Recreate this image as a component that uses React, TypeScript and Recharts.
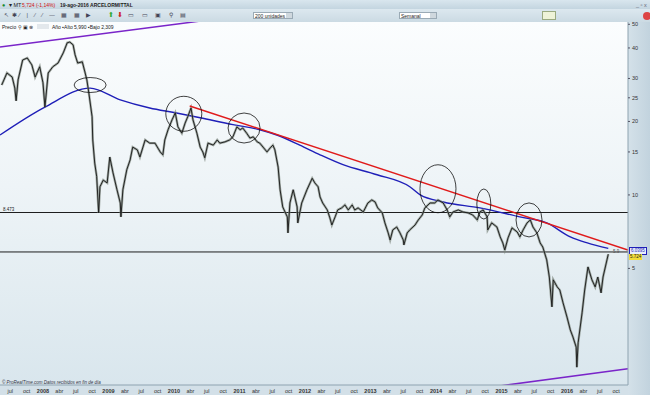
import React from "react"
import { ComposedChart, Line, XAxis, YAxis, ReferenceLine, ReferenceDot } from "recharts"

// ArcelorMittal weekly, decimal year / price
const priceDates = [
  2007.37, 2007.45, 2007.53, 2007.57, 2007.59, 2007.62, 2007.69, 2007.76, 2007.83, 2007.88, 2007.95,
  2008.0, 2008.03, 2008.08, 2008.15, 2008.23, 2008.31, 2008.37, 2008.41, 2008.46, 2008.49, 2008.53,
  2008.6, 2008.64, 2008.67, 2008.7, 2008.75, 2008.76, 2008.79, 2008.82, 2008.85, 2008.87, 2008.92,
  2008.98, 2009.02, 2009.07, 2009.13, 2009.18, 2009.19, 2009.22, 2009.28, 2009.33, 2009.37, 2009.44,
  2009.48, 2009.56, 2009.63,
  2009.71, 2009.79, 2009.83, 2009.86, 2009.91, 2009.97, 2010.02, 2010.06, 2010.12, 2010.17, 2010.21,
  2010.26, 2010.29, 2010.35, 2010.4, 2010.44, 2010.47, 2010.52, 2010.6, 2010.66, 2010.7, 2010.78,
  2010.85, 2010.9, 2010.96, 2011.01, 2011.05, 2011.11, 2011.16, 2011.21, 2011.27, 2011.31, 2011.36,
  2011.42, 2011.47, 2011.51, 2011.54, 2011.59, 2011.62, 2011.66, 2011.73, 2011.74, 2011.77, 2011.82,
  2011.88, 2011.89, 2011.95, 2012.03, 2012.11, 2012.15, 2012.2,
  2012.23, 2012.27, 2012.34, 2012.38, 2012.41, 2012.46, 2012.5, 2012.56, 2012.61, 2012.66, 2012.72,
  2012.76, 2012.81, 2012.89, 2012.96, 2013.02, 2013.07, 2013.11, 2013.18, 2013.22, 2013.27, 2013.3,
  2013.34, 2013.4, 2013.45, 2013.5, 2013.51, 2013.56, 2013.6, 2013.68, 2013.73, 2013.79, 2013.83,
  2013.91, 2013.98, 2014.03, 2014.11, 2014.17, 2014.21, 2014.26, 2014.34, 2014.41, 2014.49, 2014.56,
  2014.63, 2014.67, 2014.72, 2014.78, 2014.79, 2014.85, 2014.93, 2014.98, 2015.02, 2015.05, 2015.1,
  2015.16, 2015.24, 2015.28, 2015.33, 2015.39, 2015.44, 2015.48, 2015.54, 2015.59, 2015.63, 2015.69,
  2015.73, 2015.77, 2015.79, 2015.85, 2015.89, 2015.94, 2016.0, 2016.05, 2016.09, 2016.14, 2016.15,
  2016.17, 2016.23, 2016.27, 2016.32, 2016.38, 2016.43, 2016.47, 2016.52, 2016.55, 2016.61, 2016.63,
]
const priceValues = [
  28.2, 31.6, 30.4, 27.4, 24.3, 29.6, 35.7, 36.4, 34.1, 30.4, 33.5,
  28.8, 22.9, 31.6, 33.5, 34.7, 38.2, 42.0, 42.3, 41.2, 37.5, 34.7,
  35.1, 31.9, 29.6, 26.2, 20.9, 16.8, 13.5, 11.9, 8.44, 10.8, 11.5,
  11.2, 14.3, 12.3, 10.5, 9.27, 8.13, 10.5, 12.7, 13.9, 15.7, 15.3,
  14.3, 16.8, 16.3,
  16.3, 15.0, 14.6, 16.8, 18.5, 20.3, 21.7, 19.0, 17.9, 19.7, 20.9,
  22.7, 20.3, 17.9, 15.7, 15.0, 14.2, 16.3, 16.0, 16.8, 16.3, 16.5,
  16.8, 17.3, 19.0, 18.5, 18.8, 17.9, 17.1, 17.3, 16.5, 16.3, 15.7,
  15.0, 15.6, 16.0, 15.3, 13.0, 10.5, 8.93, 8.13, 6.99, 9.27, 10.5,
  8.93, 7.68, 9.27, 10.5, 11.7, 11.2, 10.8,
  9.81, 9.27, 8.68, 8.05, 7.53, 8.13, 8.68, 8.85, 9.1, 8.68, 9.1,
  8.68, 8.85, 8.52, 9.27, 9.54, 9.36, 8.85, 8.44, 7.68, 6.99, 6.54,
  7.19, 7.39, 6.99, 6.54, 6.24, 6.99, 7.19, 7.53, 7.9, 8.28, 8.85,
  9.27, 9.27, 9.54, 9.27, 8.68, 8.13, 8.52, 8.68, 8.52, 8.44, 8.28,
  7.9, 8.52, 8.68, 8.13, 7.19, 7.68, 7.39, 6.73, 6.36, 5.95, 6.67,
  7.33, 7.05, 6.73, 7.19, 7.68, 7.9, 7.39, 6.99, 6.36, 6.12, 5.42,
  4.61, 3.48, 4.49, 4.2, 4.08, 3.61, 3.16, 2.8, 2.62, 2.38, 1.97,
  2.48, 3.29, 4.08, 5.07, 4.49, 4.2, 4.61, 3.97, 4.61, 5.42, 5.72,
]

// 200-week moving average
const maDates = [
  2007.344, 2008.03, 2008.72, 2009.18, 2009.63, 2010.02, 2010.4, 2010.9, 2011.31, 2011.57, 2011.92,
  2012.23, 2012.58, 2013.1, 2013.6, 2013.76, 2014.11, 2014.67, 2015.28, 2015.69, 2016.05, 2016.31, 2016.63,
]
const maValues = [
  17.6, 22.9, 27.4, 24.5, 22.7, 21.7, 20.7, 19.4, 18.5, 17.6, 16.0,
  14.6, 13.3, 12.1, 10.8, 10.0, 9.36, 8.85, 8.13, 7.68, 6.73, 6.36, 6.04,
]

// drawn trend line and channel lines
const trendDates = [2010.24, 2016.93]
const trendValues = [23.15, 5.95]
const channelTopDates = [2007.344, 2010.7]
const channelTopValues = [40.4, 52.8]
const channelBottomDates = [2014.9, 2016.93]
const channelBottomValues = [1.64, 1.94]

const levelValues = [8.473, 5.84]

// annotation circles
const circleDates = [2008.72, 2010.15, 2011.07, 2014.03, 2014.73, 2015.42]
const circleValues = [28.2, 21.5, 18.8, 10.6, 9.18, 7.9]
const circleRx = [16, 18, 16, 18, 7, 13]
const circleRy = [7.5, 17.5, 15, 24, 15, 17]

const yTicks = [5, 10, 15, 20, 25, 30, 40, 50]
const years = [2008, 2009, 2010, 2011, 2012, 2013, 2014, 2015, 2016]
const quarterLabels = ["abr", "jul", "oct"]

const xTicks: number[] = [2007.5, 2007.75]
const xTickLabels: string[] = ["jul", "oct"]
years.forEach((y) => {
  xTicks.push(y)
  xTickLabels.push(String(y))
  quarterLabels.forEach((q, i) => {
    xTicks.push(y + (i + 1) * 0.25)
    xTickLabels.push(q)
  })
})

const price = priceDates.map((t, i) => ({ t, v: priceValues[i] }))
const ma = maDates.map((t, i) => ({ t, v: maValues[i] }))
const trend = trendDates.map((t, i) => ({ t, v: trendValues[i] }))
const chanTop = channelTopDates.map((t, i) => ({ t, v: channelTopValues[i] }))
const chanBottom = channelBottomDates.map((t, i) => ({ t, v: channelBottomValues[i] }))

const FONT = "'Liberation Sans', Arial, sans-serif"

function XTick(props: any) {
  const { x, y, payload } = props
  const idx = xTicks.indexOf(payload.value)
  const label = xTickLabels[idx] ?? ""
  const isYear = /^\d+$/.test(label)
  return (
    <text x={x} y={y + 7.5} textAnchor="middle" fontSize={5.5} fontFamily={FONT}
      fontWeight={isYear ? 700 : 400} fill="#333">
      {label}
    </text>
  )
}

function YTick(props: any) {
  const { x, y, payload } = props
  return (
    <text x={x + 1} y={y + 2} fontSize={5.5} fontFamily={FONT} fill="#333">
      {payload.value}
    </text>
  )
}

const txt = (extra: React.CSSProperties): React.CSSProperties => ({
  position: "absolute",
  fontFamily: FONT,
  fontSize: 5.5,
  lineHeight: "6px",
  whiteSpace: "nowrap",
  color: "#222",
  ...extra,
})

export default function App() {
  return (
    <div style={{ position: "absolute", left: 0, top: 0, width: 650, height: 395, overflow: "hidden", background: "#cddbe4" }}>
      {/* title bar */}
      <div style={{ position: "absolute", left: 0, top: 0, width: 650, height: 9, background: "linear-gradient(#d9e6ee,#c3d5e0)" }} />
      {/* toolbar */}
      <div style={{ position: "absolute", left: 0, top: 9, width: 650, height: 13, background: "linear-gradient(#dce8ef,#cbdae3)" }} />
      {/* plot background */}
      <div style={{ position: "absolute", left: 0, top: 22, width: 628, height: 363, background: "linear-gradient(#fbfdfe 0%,#eef4f7 45%,#d9e6ed 100%)" }} />
      {/* right axis panel */}
      <div style={{ position: "absolute", left: 628, top: 22, width: 22, height: 373, background: "linear-gradient(90deg,#d4e1e9,#c2d3de)" }} />
      {/* bottom axis strip */}
      <div style={{ position: "absolute", left: 0, top: 385, width: 628, height: 10, background: "#d3e0e8" }} />

      <div style={{ position: "absolute", left: 0, top: 0 }}>
        <ComposedChart width={650} height={395} margin={{ top: 22, right: 0, bottom: 0, left: 0 }}>
          <XAxis type="number" dataKey="t" domain={[2007.344, 2016.931]} allowDataOverflow
            ticks={xTicks} tick={<XTick />} tickSize={0} tickMargin={0} height={10}
            axisLine={{ stroke: "#8ea3b0" }} interval={0} />
          <YAxis type="number" dataKey="v" scale="log" domain={[1.665, 51.1]} allowDataOverflow
            orientation="right" ticks={yTicks} tick={<YTick />} tickSize={2} tickMargin={1}
            tickLine={{ stroke: "#556" }} width={22} axisLine={{ stroke: "#8ea3b0" }} interval={0} />

          {levelValues.map((v) => (
            <ReferenceLine key={v} y={v} stroke="#1e1e1e" strokeWidth={1} ifOverflow="hidden" />
          ))}

          <Line data={chanTop} dataKey="v" stroke="#7a25c9" strokeWidth={1.5} dot={false} isAnimationActive={false} />
          <Line data={chanBottom} dataKey="v" stroke="#7a25c9" strokeWidth={1.5} dot={false} isAnimationActive={false} />

          <Line data={ma} dataKey="v" type="monotone" stroke="#1f1fb8" strokeWidth={1.4} dot={false} isAnimationActive={false} />

          <Line data={price} dataKey="v" stroke="#7d877f" strokeOpacity={0.7} strokeWidth={2.4} dot={false} isAnimationActive={false} />
          <Line data={price} dataKey="v" stroke="#161616" strokeWidth={0.9} dot={false} isAnimationActive={false} />

          <Line data={trend} dataKey="v" stroke="#e01b1b" strokeWidth={1.5} dot={false} isAnimationActive={false} />

          {circleDates.map((t, i) => (
            <ReferenceDot key={t} x={t} y={circleValues[i]} ifOverflow="visible"
              shape={(p: any) => (
                <ellipse cx={p.cx} cy={p.cy} rx={circleRx[i]} ry={circleRy[i]} fill="none" stroke="#111" strokeWidth={0.8} />
              )} />
          ))}
        </ComposedChart>
      </div>

      {/* header texts */}
      <div style={txt({ left: 2, top: 1.5, color: "#1a8a2a" })}>●</div>
      <div style={txt({ left: 9, top: 1.5 })}>▾ MT</div>
      <div style={txt({ left: 22, top: 1.5, color: "#d01010", fontSize: 5 })}>5,724 (-1,14%)</div>
      <div style={txt({ left: 60, top: 1.5, fontWeight: 700, fontSize: 5 })}>19-ago-2016 ARCELORMITTAL</div>
      <div style={txt({ left: 4, top: 12, color: "#445", letterSpacing: 2.5 })}>↖✱⁄ | ⁄ ⁄ — ▦ ▦ ▶</div>
      <div style={txt({ left: 108, top: 11.5, color: "#3a3", fontSize: 7 })}>⬆</div>
      <div style={txt({ left: 117, top: 11.5, color: "#c22", fontSize: 7 })}>⬇</div>
      <div style={txt({ left: 128, top: 12, color: "#445", letterSpacing: 3 })}>▭ ▭ ▣ ⚲ ▤</div>
      <div style={{ position: "absolute", left: 253, top: 12, width: 40, height: 7, background: "#fff", border: "1px solid #9aaab5", boxSizing: "border-box" }} />
      <div style={txt({ left: 255, top: 12.5, fontSize: 5 })}>200 unidades</div>
      <div style={{ position: "absolute", left: 286, top: 13, width: 6, height: 5, background: "#cfd8de" }} />
      <div style={{ position: "absolute", left: 399, top: 12, width: 38, height: 7, background: "#fff", border: "1px solid #9aaab5", boxSizing: "border-box" }} />
      <div style={txt({ left: 401, top: 12.5, fontSize: 5 })}>Semanal</div>
      <div style={{ position: "absolute", left: 430, top: 13, width: 6, height: 5, background: "#cfd8de" }} />
      <div style={{ position: "absolute", left: 542, top: 11, width: 14, height: 9, background: "#eef3d8", border: "1px solid #9aaa80", boxSizing: "border-box" }} />
      <div style={txt({ left: 636, top: 1.5, color: "#667" })}>_ ▫ x</div>
      <div style={{ position: "absolute", left: 643, top: 12, width: 8, height: 8, borderRadius: 4, background: "#d44" }} />

      {/* plot texts */}
      <div style={txt({ left: 2, top: 24, fontSize: 5 })}>Precio ⚲ ▣ ⊗</div>
      <div style={{ position: "absolute", left: 37, top: 24, width: 12, height: 5, background: "#e3e8ec" }} />
      <div style={txt({ left: 52, top: 24, fontSize: 5 })}>Año ▪Alto 5,990 ▪Bajo 2,309</div>
      <div style={txt({ left: 3, top: 207, fontSize: 4.5 })}>8.473</div>
      <div style={txt({ left: 2, top: 380, fontSize: 4.5, fontStyle: "italic", color: "#334" })}>© ProRealTime.com  Datos recibidos en fin de día</div>

      {/* right-side value labels */}
      <div style={txt({ left: 613, top: 249, fontSize: 4.5, color: "#555" })}>5.9</div>
      <div style={{ ...txt({ left: 629, top: 247, fontSize: 4.5, color: "#1f1fb8" }), background: "#e8eefc", border: "0.5px solid #1f1fb8", padding: "0 1px" }}>6.0395</div>
      <div style={{ ...txt({ left: 629, top: 254, fontSize: 4.5, color: "#222" }), background: "#f2dc3a", padding: "0 1px" }}>5.724</div>
    </div>
  )
}
